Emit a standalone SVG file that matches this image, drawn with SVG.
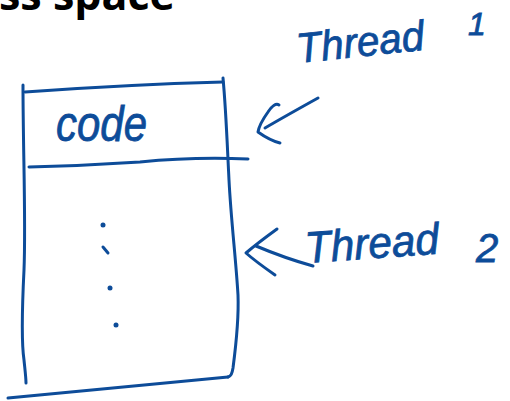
<svg xmlns="http://www.w3.org/2000/svg" width="510" height="401" viewBox="0 0 510 401">
  <style>
    .ink { fill: none; stroke: #0d4c99; stroke-width: 3; stroke-linecap: round; stroke-linejoin: round; }
    .dot { fill: #0d4c99; }
    .hand { fill: #0d4c99; stroke: #0d4c99; stroke-width: 0.8; font-family: "Liberation Sans", "DejaVu Sans", sans-serif; font-style: italic; }
    .title { fill: #000; font-family: "Open Sans", "Noto Sans", sans-serif; font-weight: bold; }
  </style>
  <rect width="510" height="401" fill="#fff"/>

  <!-- heading, clipped by the top edge -->
  <text class="title" x="-1" y="10" font-size="43">ss space</text>

  <!-- address space box with the code segment on top -->
  <g id="address-space">
    <path class="ink" d="M23,85 C23,150 26,220 24,270 C22,310 21,340 24,360 C25,370 26,378 26,383"/>
    <path class="ink" d="M25,92 C80,88 150,84 223,82"/>
    <path class="ink" d="M223,78 C226,110 227,140 229,180 C231,220 236,260 238,295 C239,320 236,345 233,368 C232,374 231,376 228,377"/>
    <path class="ink" d="M228,377 C160,384 90,390 8,398"/>
    <path class="ink" d="M29,167 C70,166 110,164 140,162 C170,159 200,157 248,159"/>
    <g id="ellipsis">
      <circle class="dot" cx="103" cy="225" r="2.5"/>
      <path class="ink" d="M103,247 L108,253" stroke-width="3.5"/>
      <circle class="dot" cx="110" cy="288" r="2.5"/>
      <circle class="dot" cx="116" cy="325" r="2.5"/>
    </g>
  </g>

  <g id="code-label">
    <text class="hand" x="56" y="141" font-size="50" textLength="91" lengthAdjust="spacingAndGlyphs">code</text>
  </g>

  <g id="thread-1">
    <text class="hand" x="298" y="63" font-size="42" textLength="128" lengthAdjust="spacingAndGlyphs" transform="rotate(-6 298 63)">Thread</text>
    <text class="hand" x="468" y="35" font-size="32">1</text>
  </g>

  <g id="thread-2">
    <text class="hand" x="306" y="263" font-size="44" textLength="134" lengthAdjust="spacingAndGlyphs" transform="rotate(-4 306 263)">Thread</text>
    <text class="hand" x="476" y="262" font-size="40">2</text>
  </g>

  <!-- hand-drawn arrows pointing at the box -->
  <g id="connectors">
    <path class="ink" d="M318,98 C300,108 282,118 265,128"/>
    <path class="ink" d="M279,105 C276,103 272,106 268,112 C263,119 259,126 258,132 C265,137 272,141 280,143"/>
    <path class="ink" d="M256,246 C275,254 295,261 313,266"/>
    <path class="ink" d="M277,229 C266,237 254,246 246,253 C255,261 265,268 275,275"/>
  </g>
</svg>
